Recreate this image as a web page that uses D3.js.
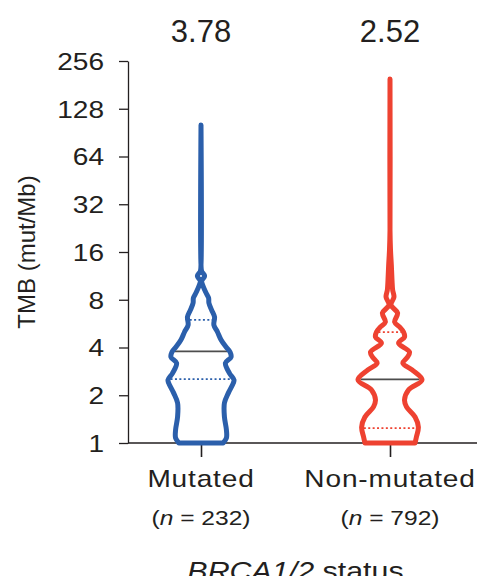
<!DOCTYPE html>
<html>
<head>
<meta charset="utf-8">
<script src="https://cdn.jsdelivr.net/npm/d3@7"></script>
<style>
  body { margin: 0; background: #fff; }
  text { font-family: "Liberation Sans", Arial, Helvetica, sans-serif; fill: #231f20; }
</style>
</head>
<body>
<script>
// groups and summary numbers
var groups = ["Mutated", "Non-mutated"];
var groupN = [232, 792];
var medians = [3.78, 2.52];
var lowerQ = [2.53, 1.24];
var upperQ = [5.97, 5.0];
var yTicks = [1, 2, 4, 8, 16, 32, 64, 128, 256];

// violin outlines: TMB value and relative density
var mutTmb = [1.00, 1.075, 1.21, 1.46, 1.79, 2.07, 2.39, 2.50, 2.76, 3.19, 3.48, 3.75, 4.03, 4.46, 5.01, 5.55, 6.23, 6.90, 7.63, 8.21, 8.95, 9.91, 10.5, 11.3, 12.1, 13.3, 101];
var mutDens = [0.67, 0.77, 0.77, 0.71, 0.71, 0.83, 0.98, 1.00, 0.86, 0.74, 0.91, 0.88, 0.76, 0.61, 0.50, 0.39, 0.41, 0.32, 0.24, 0.23, 0.14, 0.05, 0.02, 0.11, 0.02, 0, 0];
var nonTmb = [1.00, 1.09, 1.26, 1.46, 1.69, 1.87, 2.16, 2.50, 2.89, 3.19, 3.48, 3.75, 4.27, 4.66, 5.01, 5.39, 5.79, 6.60, 7.41, 8.33, 9.22, 10.7, 13.3, 16.5, 22.0, 197];
var nonDens = [0.76, 0.80, 0.86, 0.76, 0.50, 0.44, 0.56, 0.97, 0.67, 0.39, 0.53, 0.59, 0.26, 0.44, 0.41, 0.29, 0.14, 0.23, 0.03, 0.12, 0.08, 0.06, 0.04, 0.015, 0, 0];

var colors = ["#2b5fab", "#ee4231"];

var W = 477, H = 576;
var svg = d3.select("body").append("svg")
    .attr("width", W)
    .attr("height", H);

var axisX = 128;
var y = d3.scaleLog().base(2).domain([1, 256]).range([443, 61]);
var x = d3.scalePoint().domain(groups).range([201, 390]);
var w = d3.scaleLinear().domain([0, 1]).range([0, 33]);
var stretch = 1.17;

var profiles = [
  mutTmb.map(function(v, i){ return {v: v, d: mutDens[i]}; }),
  nonTmb.map(function(v, i){ return {v: v, d: nonDens[i]}; })
];

// half width of a violin at some value (linear in log space)
function halfAt(prof, v) {
  for (var i = 0; i < prof.length - 1; i++) {
    if (v >= prof[i].v && v <= prof[i+1].v) {
      var t = (Math.log(v) - Math.log(prof[i].v)) / (Math.log(prof[i+1].v) - Math.log(prof[i].v));
      return w(prof[i].d + t * (prof[i+1].d - prof[i].d));
    }
  }
  return 0;
}

// y axis
var yAxis = d3.axisLeft(y)
    .tickValues(yTicks)
    .tickFormat(d3.format("d"))
    .tickSize(9)
    .tickSizeOuter(0);

var gy = svg.append("g")
    .attr("transform", "translate(" + axisX + ",0)")
    .call(yAxis);
gy.select(".domain").attr("stroke", "#231f20").attr("stroke-width", 1.3);
gy.selectAll(".tick line").attr("stroke", "#231f20").attr("stroke-width", 1.3);
gy.selectAll(".tick text")
    .attr("x", -24 / stretch)
    .attr("dy", "0.35em")
    .attr("transform", "scale(" + stretch + ",1)")
    .style("font-size", "24px")
    .style("font-family", "'Liberation Sans', Arial, sans-serif")
    .attr("fill", "#231f20");

// x axis baseline and ticks
svg.append("line")
    .attr("x1", axisX).attr("x2", W)
    .attr("y1", y(1)).attr("y2", y(1))
    .attr("stroke", "#231f20").attr("stroke-width", 1.3);

var gx = svg.append("g")
    .attr("transform", "translate(0," + y(1) + ")")
    .call(d3.axisBottom(x).tickSize(14).tickSizeOuter(0).tickFormat(""));
gx.select(".domain").remove();
gx.selectAll(".tick line").attr("stroke", "#231f20").attr("stroke-width", 1.6);

// violins
groups.forEach(function(g, i){
  var cx = x(g);
  var area = d3.area()
      .y(function(d){ return y(d.v); })
      .x0(function(d){ return cx - w(d.d); })
      .x1(function(d){ return cx + w(d.d); })
      .curve(d3.curveCatmullRom.alpha(0.5));

  var prof = profiles[i];

  // quartiles, dotted
  [lowerQ[i], upperQ[i]].forEach(function(q){
    var hw = halfAt(prof, q) - 2;
    svg.append("line")
        .attr("x1", cx - hw).attr("x2", cx + hw)
        .attr("y1", y(q)).attr("y2", y(q))
        .attr("stroke", colors[i])
        .attr("stroke-width", 1.8)
        .attr("stroke-dasharray", "2,2.4");
  });

  // median
  var mw = halfAt(prof, medians[i]) - 2;
  svg.append("line")
      .attr("x1", cx - mw).attr("x2", cx + mw)
      .attr("y1", y(medians[i])).attr("y2", y(medians[i]))
      .attr("stroke", "#4d4d4d")
      .attr("stroke-width", 1.8);

  svg.append("path")
      .datum(prof)
      .attr("d", area)
      .attr("fill", "none")
      .attr("stroke", colors[i])
      .attr("stroke-width", 5)
      .attr("stroke-linejoin", "round")
      .attr("stroke-linecap", "round");

  // median value on top
  svg.append("text")
      .attr("x", cx).attr("y", 42)
      .attr("text-anchor", "middle")
      .style("font-size", "31px")
      .text(d3.format(".2f")(medians[i]));

  // category labels
  svg.append("text")
      .attr("transform", "translate(" + cx + ",487) scale(" + stretch + ",1)")
      .attr("text-anchor", "middle")
      .style("font-size", "24px")
      .style("letter-spacing", "0.7px")
      .text(g);

  var nl = svg.append("text")
      .attr("transform", "translate(" + cx + ",525) scale(" + stretch + ",1)")
      .attr("text-anchor", "middle")
      .style("font-size", "21px");
  nl.append("tspan").text("(");
  nl.append("tspan").style("font-style", "italic").text("n");
  nl.append("tspan").text(" = " + groupN[i] + ")");
});

// y axis title
svg.append("text")
    .attr("transform", "translate(35,252) rotate(-90)")
    .attr("text-anchor", "middle")
    .style("font-size", "24px")
    .text("TMB (mut/Mb)");

// x axis title
var xt = svg.append("text")
    .attr("transform", "translate(" + ((x(groups[0]) + x(groups[1])) / 2) + ",580) scale(" + stretch + ",1)")
    .attr("text-anchor", "middle")
    .style("font-size", "26px");
xt.append("tspan").style("font-style", "italic").text("BRCA1/2");
xt.append("tspan").text(" status");
</script>
</body>
</html>
